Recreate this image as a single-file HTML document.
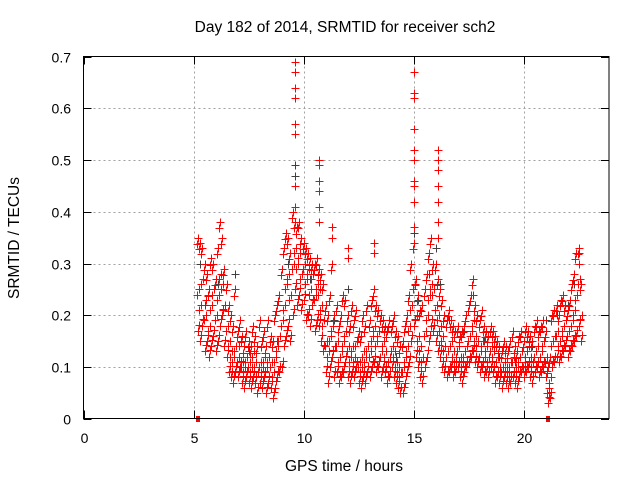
<!DOCTYPE html>
<html><head><meta charset="utf-8"><style>
html,body{margin:0;padding:0;background:#fff}
svg{display:block;font-family:"Liberation Sans",sans-serif}
</style></head><body>
<svg id="chart" width="640" height="480" viewBox="0 0 640 480">
<rect width="640" height="480" fill="#fff"/>
<text x="345" y="32" font-size="15.5" text-anchor="middle" fill="#000">Day 182 of 2014, SRMTID for receiver sch2</text>
<text x="344" y="471" font-size="15.5" text-anchor="middle" fill="#000">GPS time / hours</text>
<text x="19" y="238" font-size="15.5" text-anchor="middle" fill="#000" transform="rotate(-90 19 238)">SRMTID / TECUs</text>
<g id="grid" shape-rendering="crispEdges"></g>
<g id="ticks"></g>
<g id="gray" shape-rendering="crispEdges"></g>
<g id="red" shape-rendering="crispEdges"></g>
<rect x="83.5" y="56.5" width="525.5" height="362" fill="none" stroke="#000" stroke-width="1" shape-rendering="crispEdges"/>
</svg>
<script>
const xTicks=[0,5,10,15,20];
const yTicks=[0,0.1,0.2,0.3,0.4,0.5,0.6,0.7];
const yTickLabels=["0","0.1","0.2","0.3","0.4","0.5","0.6","0.7"];
const times=[5.2,5.3,5.4,5.5,5.6,5.7,5.8,5.9,6.0,6.1,6.2,6.3,6.4,6.5,6.6,6.7,6.8,6.9,7.0,7.1,7.2,7.3,7.4,7.5,7.6,7.7,7.8,7.9,8.0,8.1,8.2,8.3,8.4,8.5,8.6,8.7,8.8,8.9,9.0,9.1,9.2,9.3,9.4,9.5,9.6,9.7,9.8,9.9,10.0,10.1,10.2,10.3,10.4,10.5,10.6,10.7,10.8,10.9,11.0,11.1,11.2,11.3,11.4,11.5,11.6,11.7,11.8,11.9,12.0,12.1,12.2,12.3,12.4,12.5,12.6,12.7,12.8,12.9,13.0,13.1,13.2,13.3,13.4,13.5,13.6,13.7,13.8,13.9,14.0,14.1,14.2,14.3,14.4,14.5,14.6,14.7,14.8,14.9,15.0,15.1,15.2,15.3,15.4,15.5,15.6,15.7,15.8,15.9,16.0,16.1,16.2,16.3,16.4,16.5,16.6,16.7,16.8,16.9,17.0,17.1,17.2,17.3,17.4,17.5,17.6,17.7,17.8,17.9,18.0,18.1,18.2,18.3,18.4,18.5,18.6,18.7,18.8,18.9,19.0,19.1,19.2,19.3,19.4,19.5,19.6,19.7,19.8,19.9,20.0,20.1,20.2,20.3,20.4,20.5,20.6,20.7,20.8,20.9,21.0,21.1,21.2,21.3,21.4,21.5,21.6,21.7,21.8,21.9,22.0,22.1,22.2,22.3,22.4,22.5,22.6];
const redLow=[.17,.15,.18,.13,.15,.12,.14,.16,.13,.15,.18,.20,.14,.12,.09,.08,.07,.09,.08,.10,.07,.06,.08,.07,.06,.08,.07,.05,.07,.06,.08,.05,.07,.06,.04,.06,.08,.09,.10,.14,.16,.18,.15,.20,.25,.22,.24,.21,.23,.19,.20,.18,.22,.17,.19,.18,.15,.13,.09,.07,.10,.12,.08,.09,.07,.08,.09,.11,.08,.07,.09,.08,.10,.07,.06,.08,.07,.09,.08,.10,.11,.09,.10,.08,.10,.09,.07,.08,.10,.08,.07,.06,.05,.05,.07,.09,.11,.15,.18,.12,.10,.08,.07,.10,.12,.15,.18,.17,.15,.13,.12,.10,.09,.08,.09,.10,.08,.09,.10,.08,.07,.09,.10,.11,.12,.13,.11,.10,.09,.10,.08,.09,.08,.10,.09,.07,.08,.07,.06,.08,.07,.06,.07,.08,.07,.06,.08,.09,.08,.09,.10,.08,.07,.09,.10,.08,.09,.10,.08,.03,.04,.10,.11,.12,.11,.12,.13,.14,.12,.13,.14,.15,.16,.18,.15];
const redMid=[.25,.22,.27,.20,.24,.18,.22,.25,.20,.24,.28,.26,.22,.18,.15,.13,.12,.14,.12,.15,.11,.10,.12,.11,.10,.13,.11,.09,.11,.10,.12,.10,.12,.11,.09,.12,.14,.16,.19,.22,.26,.28,.24,.30,.33,.30,.32,.28,.30,.27,.29,.25,.28,.24,.26,.25,.22,.19,.15,.13,.16,.18,.14,.15,.12,.13,.15,.17,.14,.12,.14,.12,.15,.11,.10,.13,.12,.14,.13,.16,.18,.15,.17,.13,.15,.13,.11,.12,.14,.13,.11,.10,.09,.10,.12,.14,.18,.22,.26,.20,.16,.14,.12,.17,.20,.24,.26,.25,.22,.20,.18,.16,.14,.13,.14,.15,.13,.12,.14,.12,.11,.13,.14,.16,.17,.19,.16,.15,.13,.15,.12,.14,.12,.14,.13,.11,.12,.10,.10,.11,.10,.09,.11,.12,.10,.10,.12,.13,.11,.13,.14,.12,.11,.13,.14,.12,.13,.15,.12,.06,.08,.15,.16,.17,.15,.16,.18,.19,.17,.18,.19,.21,.24,.27,.20];
const redHigh=[.35,.34,.33,.30,.28,.25,.31,.30,.27,.33,.38,.35,.29,.26,.22,.20,.18,.25,.17,.19,.16,.14,.17,.15,.14,.18,.16,.14,.19,.15,.17,.14,.19,.16,.15,.20,.22,.24,.29,.33,.36,.35,.32,.40,.38,.37,.38,.35,.34,.33,.32,.31,.30,.30,.31,.29,.28,.26,.22,.20,.24,.30,.20,.22,.18,.20,.24,.23,.20,.18,.22,.19,.21,.17,.16,.20,.18,.22,.19,.23,.25,.22,.21,.20,.19,.18,.17,.19,.18,.20,.17,.16,.14,.15,.18,.20,.24,.30,.34,.27,.24,.21,.22,.25,.28,.32,.35,.30,.30,.27,.25,.23,.20,.19,.21,.19,.18,.17,.18,.16,.17,.18,.20,.22,.24,.27,.22,.20,.19,.21,.18,.17,.16,.18,.17,.16,.15,.14,.13,.15,.14,.13,.15,.17,.14,.13,.16,.17,.15,.18,.17,.16,.15,.18,.19,.17,.18,.19,.17,.10,.12,.20,.21,.22,.20,.23,.24,.22,.21,.23,.26,.28,.32,.33,.26];
const spikeTimes=[9.6,9.6,9.6,9.6,9.6,9.6,9.6,9.6,10.7,10.7,10.7,10.7,10.7,10.7,11.3,11.3,12.0,12.0,13.2,13.2,15.0,15.0,15.0,15.0,15.0,15.0,15.0,15.0,15.0,15.0,15.0,16.1,16.1,16.1,16.1,16.1,16.1,16.1,22.5,22.5];
const spikeValues=[.41,.45,.55,.57,.62,.64,.67,.69,.38,.41,.44,.46,.49,.50,.35,.37,.31,.33,.32,.34,.37,.42,.45,.46,.50,.52,.56,.62,.63,.67,.67,.35,.38,.42,.45,.48,.50,.52,.30,.32];
const zeroTimes=[5.2,21.1];
const grayTimes=[5.3,5.5,6.1,6.9,7.5,8.8,9.3,9.6,9.6,9.8,10.3,10.7,11.4,12.0,12.6,13.4,14.2,15.0,15.0,15.2,15.7,16.0,16.2,16.6,17.3,17.7,18.2,18.9,19.6,20.4,21.0,21.5,22.0,22.3,22.5];
const grayValues=[.30,.22,.26,.28,.13,.15,.30,.49,.47,.38,.27,.38,.19,.25,.16,.21,.12,.36,.63,.23,.28,.33,.26,.19,.17,.24,.15,.12,.11,.14,.19,.20,.22,.26,.30];

const X0=83.5,XS=22.0,Y0=418.7,YS=517.1;
function xs(v){return X0+v*XS;}
function ys(v){return Y0-v*YS;}
const NS="http://www.w3.org/2000/svg";
function mk(tag,attrs,parent){const e=document.createElementNS(NS,tag);for(const k in attrs)e.setAttribute(k,attrs[k]);parent.appendChild(e);return e;}
const grid=document.getElementById('grid'),ticks=document.getElementById('ticks');
xTicks.forEach(function(t){
  const x=Math.round(xs(t))+0.5;
  if(t>0){const g=mk('line',{x1:x,y1:56.5,x2:x,y2:418.5,stroke:'#a0a0a0','stroke-dasharray':'2,3'},grid);
  
  }
  const a=mk('line',{x1:x,y1:418.5,x2:x,y2:410.5,stroke:'#000'},ticks);
  
  
  const b=mk('line',{x1:x,y1:56.5,x2:x,y2:64.5,stroke:'#000'},ticks);
  
  
  const l=mk('text',{x:x,y:443,'font-size':14,'text-anchor':'middle',fill:'#000'},ticks);
  l.textContent=String(t);
  
  
});
yTicks.forEach(function(t,i){
  const y=Math.round(ys(t))+0.5;
  if(t>0&&t<0.7){const g=mk('line',{x1:83.5,y1:y,x2:609,y2:y,stroke:'#a0a0a0','stroke-dasharray':'2,3'},grid);
  
  }
  const a=mk('line',{x1:83.5,y1:y,x2:91.5,y2:y,stroke:'#000'},ticks);
  
  
  const b=mk('line',{x1:601,y1:y,x2:609,y2:y,stroke:'#000'},ticks);
  
  
  const l=mk('text',{x:71,y:y+5,'font-size':14,'text-anchor':'end',fill:'#000'},ticks);
  l.textContent=yTickLabels[i];
  
  
});
function plus(parent,t,v,color,name,dx){
  const x=Math.round(xs(t)+(dx||0))+0.5,y=Math.round(ys(v))+0.5;
  const p=mk('path',{d:'M'+(x-4)+' '+y+'H'+(x+4)+'M'+x+' '+(y-4)+'V'+(y+4),stroke:color,'stroke-width':1,fill:'none'},parent);
  
  
}
const gray=document.getElementById('gray'),red=document.getElementById('red');
grayTimes.forEach(function(t,i){plus(gray,t,grayValues[i],'#404040','gray-point');});
times.forEach(function(t,i){
  plus(red,t,redLow[i],'#ff0000','red-point',0);
  plus(red,t,redLow[i]+0.012,'#ff0000','red-point',1);
  plus(red,t,redMid[i],'#ff0000','red-point',1);
  plus(red,t,redMid[i]-0.01,'#ff0000','red-point',-1);
  plus(red,t,redHigh[i],'#ff0000','red-point',0);
  plus(red,t,redHigh[i]-0.012,'#ff0000','red-point',-1);
});
spikeTimes.forEach(function(t,i){plus(red,t,spikeValues[i],'#ff0000','red-spike-point',0);});
zeroTimes.forEach(function(t){
  const r=mk('rect',{x:Math.round(xs(t))-2,y:Math.round(ys(0))-3,width:4,height:6,fill:'#ff0000'},red);
  
  
});
</script>
</body></html>
